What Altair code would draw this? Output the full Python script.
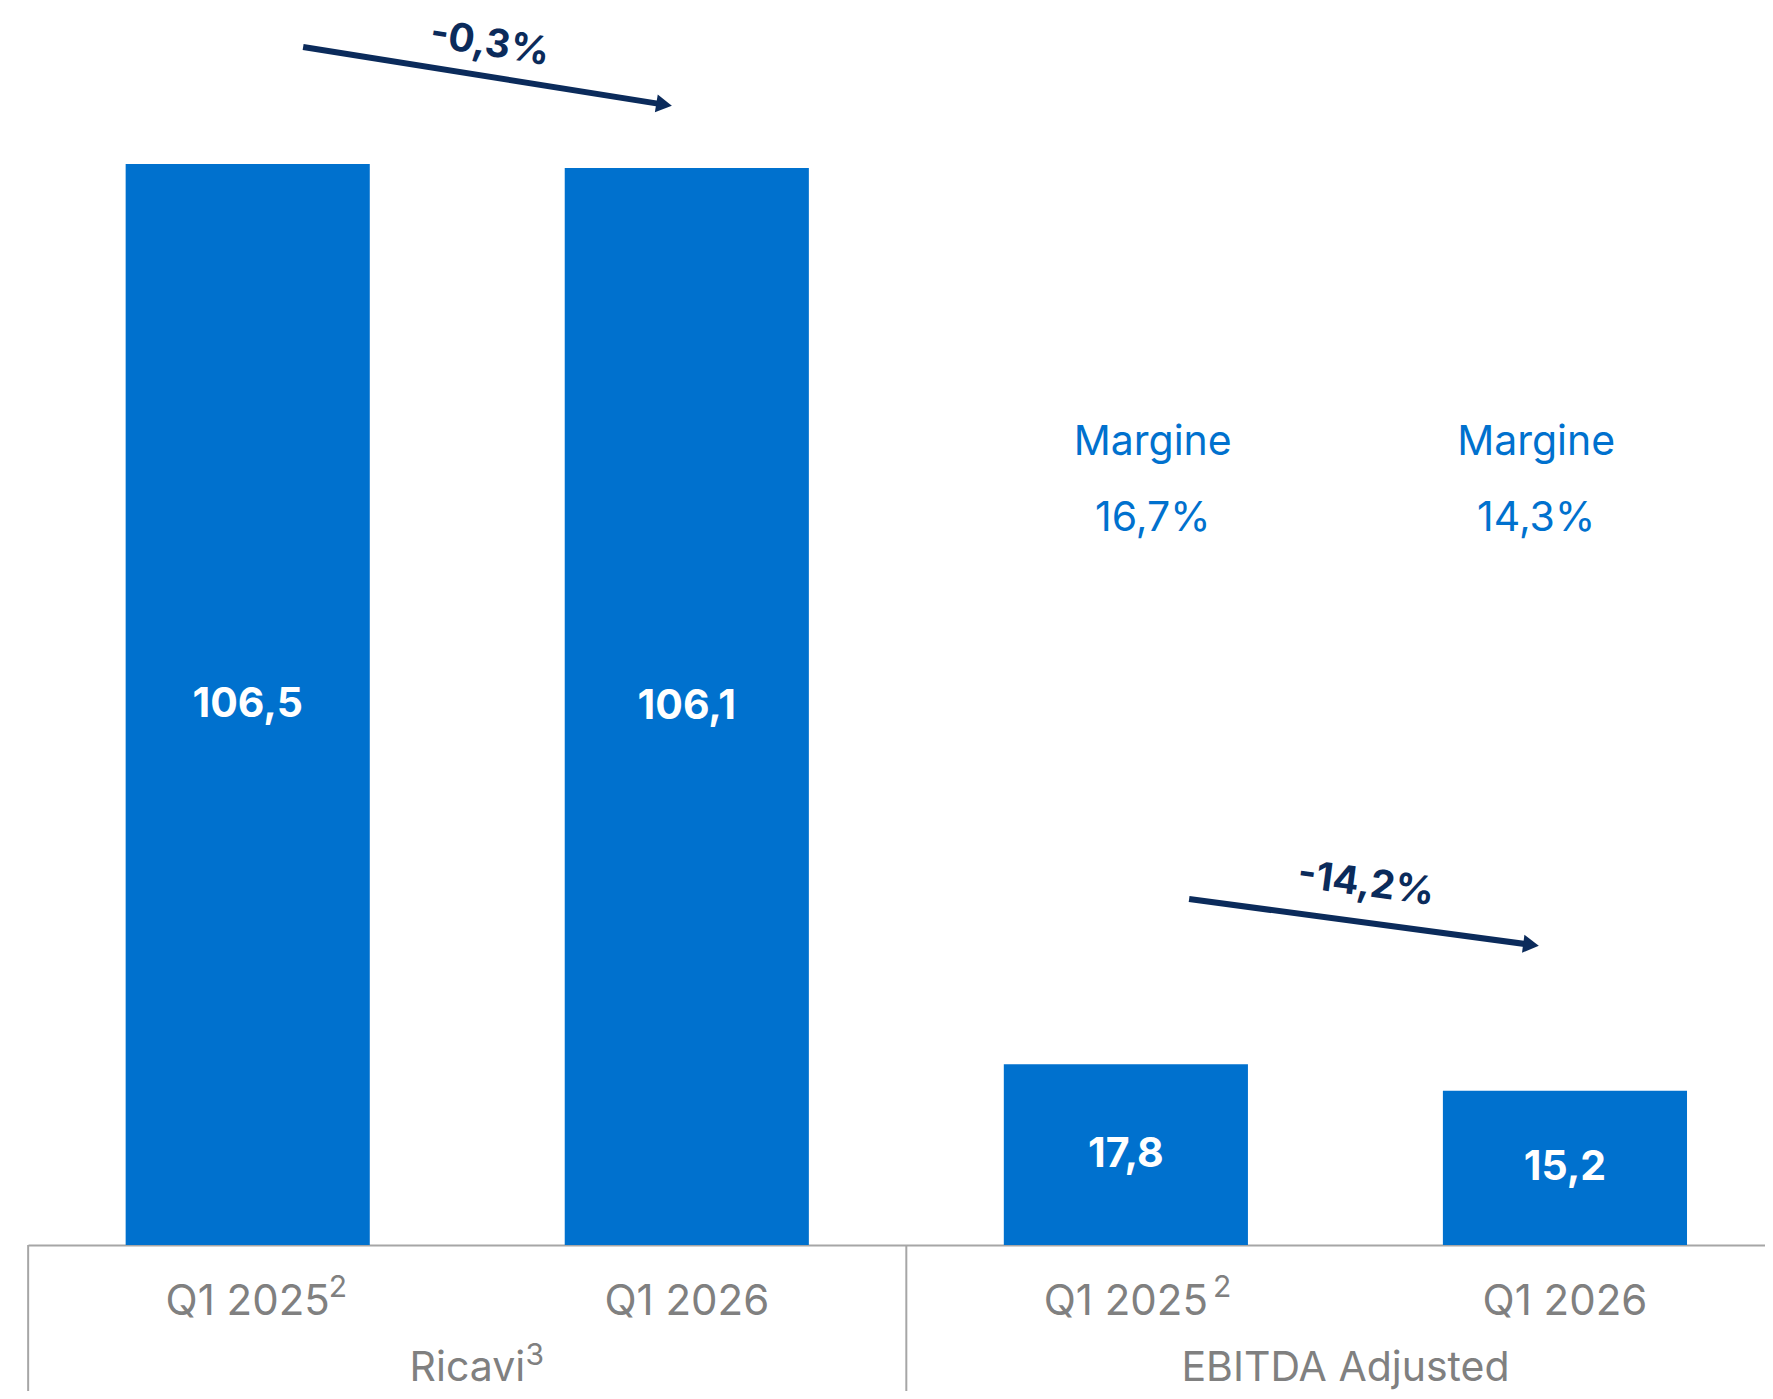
import altair as alt
import pandas as pd

# ---------------- data ----------------
categories = ["Ricavi Q1 2025", "Ricavi Q1 2026", "EBITDA Q1 2025", "EBITDA Q1 2026"]
period_labels = ["Q1 2025", "Q1 2026", "Q1 2025", "Q1 2026"]
period_notes = ["2", "", "2", ""]
values = [106.5, 106.1, 17.8, 15.2]
value_labels = ["106,5", "106,1", "17,8", "15,2"]

group_names = ["Ricavi", "EBITDA Adjusted"]
group_first = ["Ricavi Q1 2025", "EBITDA Q1 2025"]
group_notes = ["3", ""]

margin_cats = ["EBITDA Q1 2025", "EBITDA Q1 2026"]
margin_title = "Margine"
margin_labels = ["16,7%", "14,3%"]

arrow_from = ["Ricavi Q1 2025", "EBITDA Q1 2025"]
arrow_to = ["Ricavi Q1 2026", "EBITDA Q1 2026"]
arrow_labels = ["-0,3%", "-14,2%"]

# ---------------- style ----------------
W, H = 1737, 1237
BOTTOM = 146
BLUE = "#0071CE"
NAVY = "#0B2B5B"
GREY = "#808080"
LINE = "#A6A6A6"
FONT = "Inter"
HALF_GAP = 97.5      # half of the gap between two bands (px)
GROUP_DX = 97.6      # from band end to the middle of a two-bar group (px)

xs = alt.Scale(domain=categories, paddingInner=0.444, paddingOuter=0.2, align=0.556)
ys = alt.Scale(domain=[0, 121.87], nice=False, zero=True)

bars_df = pd.DataFrame({"cat": categories, "value": values, "lab": value_labels,
                        "period": period_labels, "note": period_notes})

bars = alt.Chart(bars_df).mark_bar(color=BLUE).encode(
    x=alt.X("cat:N", scale=xs, sort=categories,
            axis=alt.Axis(labels=False, ticks=False, title=None, grid=False,
                          domainColor=LINE, domainWidth=2)),
    y=alt.Y("value:Q", scale=ys, axis=None),
)

bar_text = alt.Chart(bars_df).transform_calculate(mid="datum.value / 2").mark_text(
    color="white", font=FONT, fontSize=41, fontWeight="bold", baseline="middle", align="center"
).encode(
    x=alt.X("cat:N", scale=xs, sort=categories),
    y=alt.Y("mid:Q", scale=ys),
    text="lab:N",
)

period_text = alt.Chart(bars_df).mark_text(
    color=GREY, font=FONT, fontSize=42, baseline="alphabetic", align="center"
).encode(
    x=alt.X("cat:N", scale=xs, sort=categories),
    y=alt.value(1307),
    text="period:N",
)

layers = [bars, bar_text, period_text]

sup_dx = {0: 81, 2: 87}
for i, note in enumerate(period_notes):
    if note:
        df = pd.DataFrame({"cat": [categories[i]], "note": [note]})
        layers.append(alt.Chart(df).mark_text(
            color=GREY, font=FONT, fontSize=30, baseline="alphabetic", align="left", dx=sup_dx[i]
        ).encode(x=alt.X("cat:N", scale=xs), y=alt.value(1289), text="note:N"))

groups_df = pd.DataFrame({"cat": group_first, "name": group_names, "note": group_notes})
layers.append(alt.Chart(groups_df).mark_rule(color=LINE, strokeWidth=2, xOffset=-HALF_GAP).encode(
    x=alt.X("cat:N", scale=xs, bandPosition=0),
    y=alt.value(H), y2=alt.value(H + BOTTOM),
))
layers.append(alt.Chart(groups_df).mark_text(
    color=GREY, font=FONT, fontSize=41, baseline="alphabetic", align="center", dx=GROUP_DX
).encode(
    x=alt.X("cat:N", scale=xs, bandPosition=1),
    y=alt.value(1373), text="name:N",
))
gsup = groups_df[groups_df["note"] != ""]
layers.append(alt.Chart(gsup).mark_text(
    color=GREY, font=FONT, fontSize=30, baseline="alphabetic", align="left", dx=GROUP_DX + 58
).encode(
    x=alt.X("cat:N", scale=xs, bandPosition=1),
    y=alt.value(1357), text="note:N",
))

# margin annotations
margin_band = [0.61, 0.382]
for i, c in enumerate(margin_cats):
    df = pd.DataFrame({"cat": [c], "txt": [margin_title + "\n" + margin_labels[i]]})
    layers.append(alt.Chart(df).mark_text(
        color=BLUE, font=FONT, fontSize=41, baseline="alphabetic", align="center",
        lineBreak="\n", lineHeight=76
    ).encode(
        x=alt.X("cat:N", scale=xs, bandPosition=margin_band[i]),
        y=alt.value(447), text="txt:N",
    ))

# arrows
arrow_geom = [
    dict(b0=0.727, b1=0.407, y0=39, y1=96.6, ang=9.06, ldx=118.5, ldy=-18.9, ly=36),
    dict(b0=0.759, b1=0.361, y0=891, y1=936.8, ang=7.63, ldx=117.0, ldy=-15.7, ly=876),
]
for i in range(len(arrow_from)):
    g = arrow_geom[i]
    df = pd.DataFrame({"from": [arrow_from[i]], "to": [arrow_to[i]], "lab": [arrow_labels[i]]})
    base = alt.Chart(df)
    layers.append(base.mark_rule(color=NAVY, strokeWidth=6).encode(
        x=alt.X("from:N", scale=xs, bandPosition=g["b0"]),
        x2=alt.X2("to:N", bandPosition=g["b1"]),
        y=alt.value(g["y0"]), y2=alt.value(g["y1"]),
    ))
    layers.append(base.mark_point(
        shape="triangle-right", filled=True, size=330, color=NAVY, opacity=1, angle=g["ang"]
    ).encode(
        x=alt.X("to:N", scale=xs, bandPosition=g["b1"]),
        y=alt.value(g["y1"]),
    ))
    layers.append(base.mark_text(
        color=NAVY, font=FONT, fontSize=39, fontWeight="bold", baseline="middle",
        align="center", angle=g["ang"], dx=g["ldx"], dy=g["ldy"]
    ).encode(
        x=alt.X("from:N", scale=xs, bandPosition=1),
        y=alt.value(g["ly"]), text="lab:N",
    ))

chart = alt.layer(*layers).properties(
    width=W, height=H,
    autosize=alt.AutoSizeParams(type="none"),
    padding={"left": 20, "top": 0, "right": 0, "bottom": BOTTOM},
    background="white",
).configure_view(stroke=None)

chart.save("out.html", embed_options={"renderer": "svg", "actions": False})
